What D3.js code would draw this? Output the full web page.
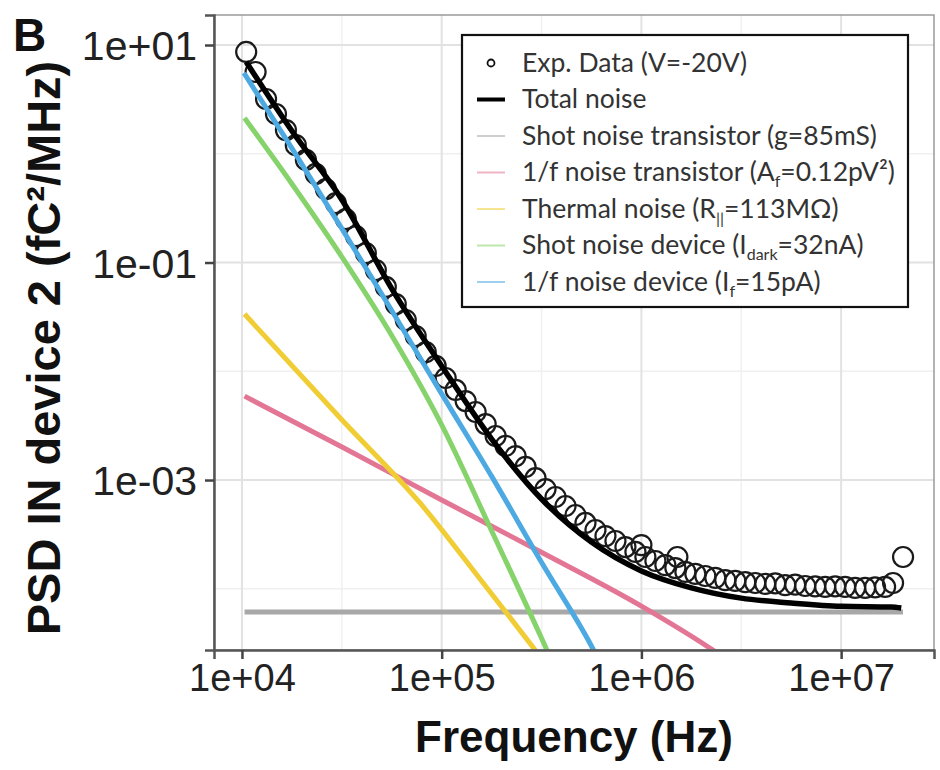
<!DOCTYPE html>
<html>
<head>
<meta charset="utf-8">
<script src="https://cdn.jsdelivr.net/npm/d3@7/dist/d3.min.js"></script>
<style>
  html, body { margin: 0; padding: 0; background: #fff; }
  svg { display: block; }
</style>
</head>
<body>
<svg id="chart" width="940" height="770"></svg>
<script>
// ---------------- DATA ----------------
const xTickValues = [1e4, 1e5, 1e6, 1e7];
const xTickLabels = ["1e+04", "1e+05", "1e+06", "1e+07"];
const yTickValues = [1e1, 1e-1, 1e-3];
const yTickLabels = ["1e+01", "1e-01", "1e-03"];
const xMinorGrid = [31623, 316228, 3162278];
const yMinorGrid = [1e0, 1e-2, 1e-4];

// Experimental data (V=-20V)
const expFreq = [10500, 11700, 13200, 14800, 16600, 18600, 20900, 23400, 26300, 29500,
  33100, 37200, 41700, 46800, 52500, 58900, 66100, 74100, 83200, 93300,
  104700, 117500, 131800, 147900, 166000, 186200, 208900, 234400, 263000, 295100,
  331100, 371500, 416900, 467700, 524800, 588800, 660700, 741300, 831800, 933300,
  1000000, 1047000, 1175000, 1318000, 1479000, 1514000, 1660000, 1862000, 2089000, 2344000,
  2630000, 2951000, 3311000, 3715000, 4169000, 4677000, 5248000, 5888000, 6607000, 7413000,
  8318000, 9333000, 10470000, 11750000, 13180000, 14790000, 16600000, 18200000, 20420000];
const expPSD = [8.63, 5.65, 3.19, 2.32, 1.65, 1.20, 0.877, 0.652, 0.474, 0.352,
  0.251, 0.175, 0.122, 0.0853, 0.0596, 0.0415, 0.0296, 0.0211, 0.0150, 0.0112,
  8.67e-3, 6.73e-3, 5.32e-3, 4.22e-3, 3.27e-3, 2.54e-3, 2.06e-3, 1.66e-3, 1.32e-3, 1.04e-3,
  8.26e-4, 6.98e-4, 5.77e-4, 4.77e-4, 4.03e-4, 3.47e-4, 3.05e-4, 2.75e-4, 2.42e-4, 2.18e-4,
  2.52e-4, 1.96e-4, 1.80e-4, 1.65e-4, 1.55e-4, 1.96e-4, 1.43e-4, 1.37e-4, 1.31e-4, 1.26e-4,
  1.20e-4, 1.18e-4, 1.15e-4, 1.13e-4, 1.11e-4, 1.12e-4, 1.08e-4, 1.09e-4, 1.06e-4, 1.05e-4,
  1.04e-4, 1.05e-4, 1.04e-4, 1.02e-4, 1.02e-4, 1.03e-4, 1.04e-4, 1.13e-4, 1.96e-4];

// Total noise
const totalFreq = [10500, 17800, 31700, 56400, 100000, 178000, 316000, 562000, 1000000, 1780000, 3160000, 5620000, 10000000, 17800000, 20000000];
const totalPSD  = [6.98, 1.62, 0.376, 0.057, 0.0112, 2.38e-3, 6.69e-4, 2.69e-4, 1.46e-4, 1.02e-4, 8.2e-5, 7.4e-5, 6.9e-5, 6.8e-5, 6.65e-5];

// Shot noise transistor (g=85mS)
const shotTrFreq = [10300, 20400000];
const shotTrPSD  = [6.1e-5, 6.1e-5];

// 1/f noise transistor
const flickTrFreq = [10300, 31700, 100000, 314000, 1000000, 2200000, 2780000];
const flickTrPSD  = [5.91e-3, 2.01e-3, 6.55e-4, 2.18e-4, 6.93e-5, 2.85e-5, 2.12e-5];

// Thermal noise
const thermFreq = [10300, 31700, 77900, 155600, 286000, 329000];
const thermPSD  = [0.0336, 3.56e-3, 6.15e-4, 1.23e-4, 2.91e-5, 2.07e-5];

// Shot noise device
const shotDevFreq = [10300, 17800, 31700, 56400, 100000, 178000, 316000, 369000];
const shotDevPSD  = [2.13, 0.527, 0.112, 0.0211, 3.21e-3, 3.40e-4, 3.52e-5, 1.87e-5];

// 1/f noise device
const flickDevFreq = [10230, 17800, 31700, 56400, 100000, 178000, 316000, 562000, 658000];
const flickDevPSD  = [5.53, 1.12, 0.204, 0.0358, 6.2e-3, 1.08e-3, 1.75e-4, 2.98e-5, 1.71e-5];

const seriesColors = ["#a8a8a8", "#e27694", "#f1cd35", "#86d36b", "#4ca9e1", "#000000"];

// ---------------- CHART ----------------
const svg = d3.select("#chart");
const P = { left: 214, right: 934, top: 15, bottom: 650 };

const x = d3.scaleLog().domain([Math.pow(10, 3.86), Math.pow(10, 7.465)]).range([P.left, P.right]);
const y = d3.scaleLog().domain([Math.pow(10, -4.563), Math.pow(10, 1.276)]).range([P.bottom, P.top]);

svg.append("rect").attr("width", 940).attr("height", 770).attr("fill", "#fff");

svg.append("defs").append("clipPath").attr("id", "clip")
  .append("rect").attr("x", P.left).attr("y", P.top)
  .attr("width", P.right - P.left).attr("height", P.bottom - P.top);

// grid
const grid = svg.append("g");
grid.selectAll(".xmin").data(xMinorGrid).enter().append("line")
  .attr("x1", d => x(d)).attr("x2", d => x(d)).attr("y1", P.top).attr("y2", P.bottom)
  .attr("stroke", "#f0f0f0").attr("stroke-width", 1.5);
grid.selectAll(".ymin").data(yMinorGrid).enter().append("line")
  .attr("y1", d => y(d)).attr("y2", d => y(d)).attr("x1", P.left).attr("x2", P.right)
  .attr("stroke", "#f0f0f0").attr("stroke-width", 1.5);
grid.selectAll(".xmaj").data(xTickValues).enter().append("line")
  .attr("x1", d => x(d)).attr("x2", d => x(d)).attr("y1", P.top).attr("y2", P.bottom)
  .attr("stroke", "#e2e2e2").attr("stroke-width", 2);
grid.selectAll(".ymaj").data(yTickValues).enter().append("line")
  .attr("y1", d => y(d)).attr("y2", d => y(d)).attr("x1", P.left).attr("x2", P.right)
  .attr("stroke", "#e2e2e2").attr("stroke-width", 2);

const plot = svg.append("g").attr("clip-path", "url(#clip)");

// data points
plot.selectAll("circle.exp").data(expFreq.map((f, i) => [f, expPSD[i]])).enter()
  .append("circle").attr("class", "exp")
  .attr("cx", d => x(d[0])).attr("cy", d => y(d[1])).attr("r", 10)
  .attr("fill", "none").attr("stroke", "#1a1a1a").attr("stroke-width", 2.2);

const line = d3.line().x(d => x(d[0])).y(d => y(d[1])).curve(d3.curveMonotoneX);
const seriesData = [
  [shotTrFreq, shotTrPSD], [flickTrFreq, flickTrPSD], [thermFreq, thermPSD],
  [shotDevFreq, shotDevPSD], [flickDevFreq, flickDevPSD], [totalFreq, totalPSD]
];
seriesData.forEach((s, i) => {
  plot.append("path")
    .datum(s[0].map((f, j) => [f, s[1][j]]))
    .attr("d", line)
    .attr("fill", "none")
    .attr("stroke", seriesColors[i])
    .attr("stroke-width", i === 5 ? 5.5 : 5)
    .attr("stroke-linecap", "butt");
});

// panel border
svg.append("rect").attr("x", P.left).attr("y", P.top)
  .attr("width", P.right - P.left).attr("height", P.bottom - P.top)
  .attr("fill", "none").attr("stroke", "#9a9a9a").attr("stroke-width", 1.5);

// axes
const xAxis = d3.axisBottom(x).tickValues(xTickValues)
  .tickFormat((d, i) => xTickLabels[i]).tickSize(9).tickPadding(4);
const yAxis = d3.axisLeft(y).tickValues(yTickValues)
  .tickFormat((d, i) => yTickLabels[i]).tickSize(9).tickPadding(8);

const gx = svg.append("g").attr("transform", `translate(0,${P.bottom})`).call(xAxis);
const gy = svg.append("g").attr("transform", `translate(${P.left},0)`).call(yAxis);
[gx, gy].forEach(g => {
  g.select(".domain").attr("stroke", "#555").attr("stroke-width", 2.5);
  g.selectAll(".tick line").attr("stroke", "#444").attr("stroke-width", 2.5);
  g.selectAll(".tick text").attr("fill", "#222")
    .style("font-family", "'Liberation Sans', Arial, sans-serif");
});
gx.selectAll(".tick text").attr("dy", "0.74em").style("font-size", "38px");
gy.selectAll(".tick text").attr("dy", "0.36em").style("font-size", "41px");

// axis titles
svg.append("text").attr("x", (P.left + P.right) / 2).attr("y", 752)
  .attr("text-anchor", "middle")
  .style("font-family", "'Liberation Sans', Arial, sans-serif")
  .style("font-size", "44px").style("font-weight", "bold").attr("fill", "#111")
  .text("Frequency (Hz)");

const yt = svg.append("text")
  .attr("transform", `translate(60,348) rotate(-90)`)
  .attr("text-anchor", "middle")
  .style("font-family", "'Liberation Sans', Arial, sans-serif")
  .style("font-size", "47px").style("font-weight", "bold").attr("fill", "#111");
yt.append("tspan").text("PSD IN device 2 (fC");
yt.append("tspan").text("²");
yt.append("tspan").text("/MHz)");

svg.append("text").attr("x", 13).attr("y", 51)
  .style("font-family", "'Liberation Sans', Arial, sans-serif")
  .style("font-size", "46px").style("font-weight", "bold").attr("fill", "#111")
  .text("B");

// legend
const L = { x: 462, y: 35, w: 446, h: 272 };
const lg = svg.append("g");
lg.append("rect").attr("x", L.x).attr("y", L.y).attr("width", L.w).attr("height", L.h)
  .attr("fill", "#fff").attr("stroke", "#111").attr("stroke-width", 2.2);

const legendRows = [
  { key: "point", parts: [["Exp. Data (V=-20V)"]] },
  { key: 5, parts: [["Total noise"]] },
  { key: 0, parts: [["Shot noise transistor (g=85mS)"]] },
  { key: 1, parts: [["1/f noise transistor (A"], ["f", "sub"], ["=0.12pV²)"]] },
  { key: 2, parts: [["Thermal noise (R"], ["||", "sub"], ["=113MΩ)"]] },
  { key: 3, parts: [["Shot noise device (I"], ["dark", "sub"], ["=32nA)"]] },
  { key: 4, parts: [["1/f noise device (I"], ["f", "sub"], ["=15pA)"]] }
];
const rowY0 = 63, rowStep = 36.5;
legendRows.forEach((r, i) => {
  const cy = rowY0 + i * rowStep;
  if (r.key === "point") {
    lg.append("circle").attr("cx", 491).attr("cy", cy).attr("r", 3.5)
      .attr("fill", "none").attr("stroke", "#111").attr("stroke-width", 1.8);
  } else {
    lg.append("line").attr("x1", 477).attr("x2", 505).attr("y1", cy).attr("y2", cy)
      .attr("stroke", seriesColors[r.key])
      .attr("stroke-width", r.key === 5 ? 4 : 2)
      .attr("stroke-opacity", r.key === 5 ? 1 : 0.55);
  }
  const t = lg.append("text").attr("x", 522).attr("y", cy + 8.5)
    .style("font-family", "Lato, 'Open Sans', sans-serif").style("font-size", "26.5px")
    .attr("fill", "#333");
  let shifted = false;
  r.parts.forEach(p => {
    const ts = t.append("tspan").text(p[0]);
    if (p[1] === "sub") { ts.attr("dy", 6).style("font-size", "16px"); shifted = true; }
    else if (shifted) { ts.attr("dy", -6); shifted = false; }
  });
});
</script>
</body>
</html>
